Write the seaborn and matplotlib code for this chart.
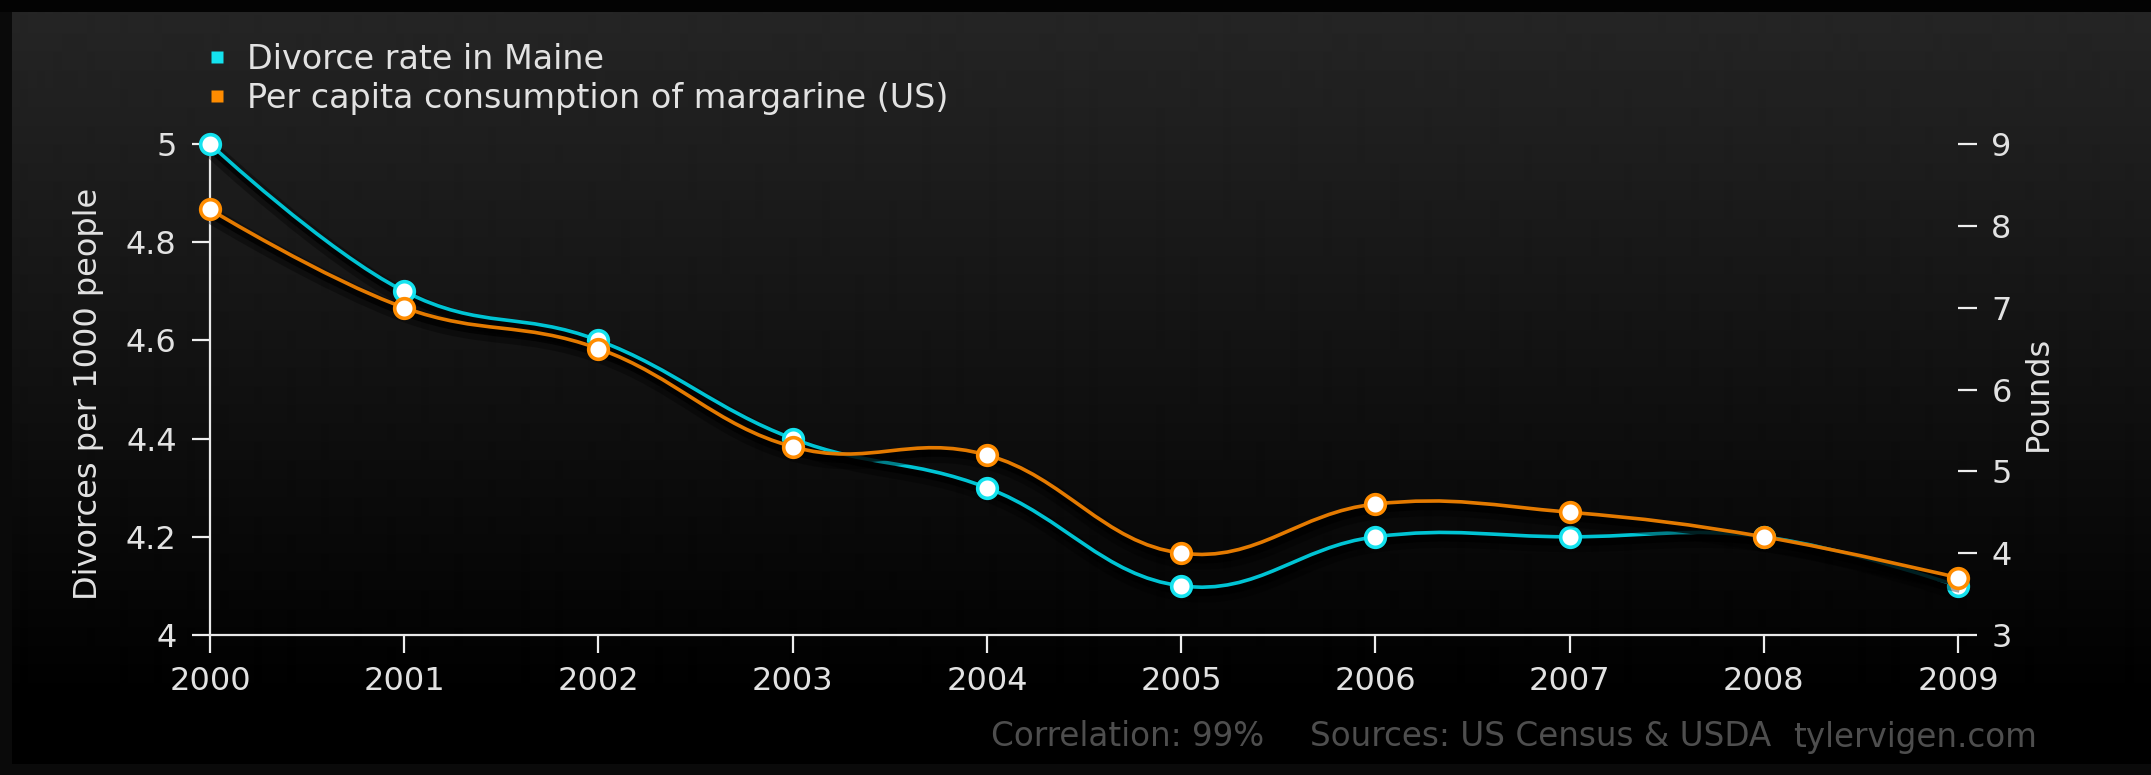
import numpy as np
import pandas as pd
import matplotlib
matplotlib.use("Agg")
import matplotlib.pyplot as plt
import matplotlib.patheffects as pe
from matplotlib.path import Path
from matplotlib.patches import PathPatch, Rectangle
from matplotlib.lines import Line2D
import seaborn as sns

# data
years = [2000, 2001, 2002, 2003, 2004, 2005, 2006, 2007, 2008, 2009]
divorce_rate = [5.0, 4.7, 4.6, 4.4, 4.3, 4.1, 4.2, 4.2, 4.2, 4.1]
margarine_lbs = [8.2, 7.0, 6.5, 5.3, 5.2, 4.0, 4.6, 4.5, 4.2, 3.7]

left_ticks = [4, 4.2, 4.4, 4.6, 4.8, 5]
left_tick_labels = ["4", "4.2", "4.4", "4.6", "4.8", "5"]
right_ticks = [3, 4, 5, 6, 7, 8, 9]
right_tick_labels = ["3", "4", "5", "6", "7", "8", "9"]

series_names = ["Divorce rate in Maine", "Per capita consumption of margarine (US)"]
footer_parts = ["Correlation: 99%", "Sources: US Census & USDA", "tylervigen.com"]

CYAN_LINE = "#00c4d4"
CYAN_EDGE = "#14e2ee"
ORANGE_LINE = "#e47a00"
ORANGE_EDGE = "#ff8c00"
TEXT = "#e2e2e2"
FOOTER = "#4e4e4e"

W, H = 2151, 775


def spline_path(xs, ys, smoothing=1.5):
    # highcharts-like spline: bezier control points built from neighbours
    xs = np.asarray(xs, dtype=float)
    ys = np.asarray(ys, dtype=float)
    n = len(xs)
    d = smoothing + 1
    ctrl = []
    for i in range(n):
        if i == 0 or i == n - 1:
            ctrl.append((xs[i], ys[i], xs[i], ys[i]))
            continue
        lx = (smoothing * xs[i] + xs[i - 1]) / d
        ly = (smoothing * ys[i] + ys[i - 1]) / d
        rx = (smoothing * xs[i] + xs[i + 1]) / d
        ry = (smoothing * ys[i] + ys[i + 1]) / d
        corr = (ry - ly) * (rx - xs[i]) / (rx - lx) + ys[i] - ry
        ctrl.append((lx, ly + corr, rx, ry + corr))
    verts = [(xs[0], ys[0])]
    codes = [Path.MOVETO]
    for i in range(1, n):
        verts += [(ctrl[i - 1][2], ctrl[i - 1][3]), (ctrl[i][0], ctrl[i][1]), (xs[i], ys[i])]
        codes += [Path.CURVE4] * 3
    return Path(verts, codes)


def draw_series(ax, x, y, line_color, edge_color):
    shadow = [pe.SimpleLineShadow(offset=(2, -5), shadow_color="black", alpha=0.35, linewidth=12),
              pe.SimpleLineShadow(offset=(1.5, -3.5), shadow_color="black", alpha=0.75, linewidth=6),
              pe.Normal()]
    patch = PathPatch(spline_path(x, y), facecolor="none", edgecolor=line_color,
                      lw=2.6, zorder=3, clip_on=False, path_effects=shadow)
    ax.add_patch(patch)
    sns.scatterplot(x=x, y=y, ax=ax, s=200, color="white", edgecolor=edge_color,
                    linewidth=2.6, zorder=5, clip_on=False, legend=False)


sns.set_style("ticks")
plt.rcParams["font.family"] = ["DejaVu Sans"]

fig = plt.figure(figsize=(W / 100, H / 100), dpi=100, facecolor="#0a0a0a")

# dark panel with vertical gradient
fig.patches.append(Rectangle((0, 1 - 12 / H), 1, 12 / H, transform=fig.transFigure,
                             facecolor="#030303", edgecolor="none", zorder=-5))
bg = fig.add_axes([12 / W, (H - 764) / H, 1 - 12 / W, (764 - 12) / H])
rows = np.arange(12, 764)
shade = np.clip(37 * (1 - (rows - 12) / 690.0), 0, None)
bg.imshow(shade[:, None], cmap="gray", vmin=0, vmax=255, aspect="auto",
          extent=[0, 1, 0, 1], interpolation="bilinear")
bg.axis("off")
bg.set_zorder(-1)

ax = fig.add_axes([210 / W, (H - 635) / H, 1748 / W, 491 / H])
ax.patch.set_alpha(0)
ax2 = ax.twinx()
ax2.patch.set_alpha(0)

draw_series(ax, years, divorce_rate, CYAN_LINE, CYAN_EDGE)
draw_series(ax2, years, margarine_lbs, ORANGE_LINE, ORANGE_EDGE)

ax.set_xlim(2000, 2009)
ax.set_ylim(4, 5)
ax2.set_ylim(3, 9)
ax.set_xticks(years, labels=[str(y) for y in years])
ax.set_yticks(left_ticks, labels=left_tick_labels)
ax2.set_yticks(right_ticks, labels=right_tick_labels)
ax.set_xlabel("")
ax.set_ylabel("")
ax2.set_ylabel("")

for s in ["top", "right"]:
    ax.spines[s].set_visible(False)
for s in ["left", "bottom"]:
    ax.spines[s].set_color("#e8e8e8")
    ax.spines[s].set_linewidth(1.6)
for s in ax2.spines.values():
    s.set_visible(False)

ax.tick_params(axis="both", colors="#eeeeee", labelcolor=TEXT, labelsize=23,
               length=13, width=1.6, direction="out")
ax.tick_params(axis="y", pad=11)
ax.tick_params(axis="x", pad=9)
ax2.tick_params(axis="y", colors="#eeeeee", labelcolor=TEXT, labelsize=23,
                length=14, width=1.6, pad=10, direction="out")

fig.text(89 / W, 1 - 394 / H, "Divorces per 1000 people", rotation=90,
         ha="center", va="center", size=23, color=TEXT)
fig.text(2038 / W, 1 - 393 / H, "Pounds", rotation=90,
         ha="center", va="center", size=23, color=TEXT)

handles = [
    Line2D([0], [0], marker="s", linestyle="none", markersize=9,
           markerfacecolor=CYAN_EDGE, markeredgecolor="none", label=series_names[0]),
    Line2D([0], [0], marker="s", linestyle="none", markersize=9,
           markerfacecolor=ORANGE_EDGE, markeredgecolor="none", label=series_names[1]),
]
ax2.legend(handles=handles, loc="upper left", bbox_to_anchor=(208 / W, 1 - 43 / H),
           bbox_transform=fig.transFigure, frameon=False, fontsize=24, labelcolor=TEXT,
           handlelength=0.55, handletextpad=0.62, labelspacing=0.18, borderpad=0,
           borderaxespad=0)

fig.text(991 / W, 1 - 737 / H, footer_parts[0], ha="left", va="center", size=23.5, color=FOOTER)
fig.text(1310 / W, 1 - 737 / H, footer_parts[1], ha="left", va="center", size=23.5, color=FOOTER)
fig.text(2037 / W, 1 - 737 / H, footer_parts[2], ha="right", va="center", size=23.5, color=FOOTER)

fig.savefig("out.png", dpi=100, facecolor=fig.get_facecolor())
